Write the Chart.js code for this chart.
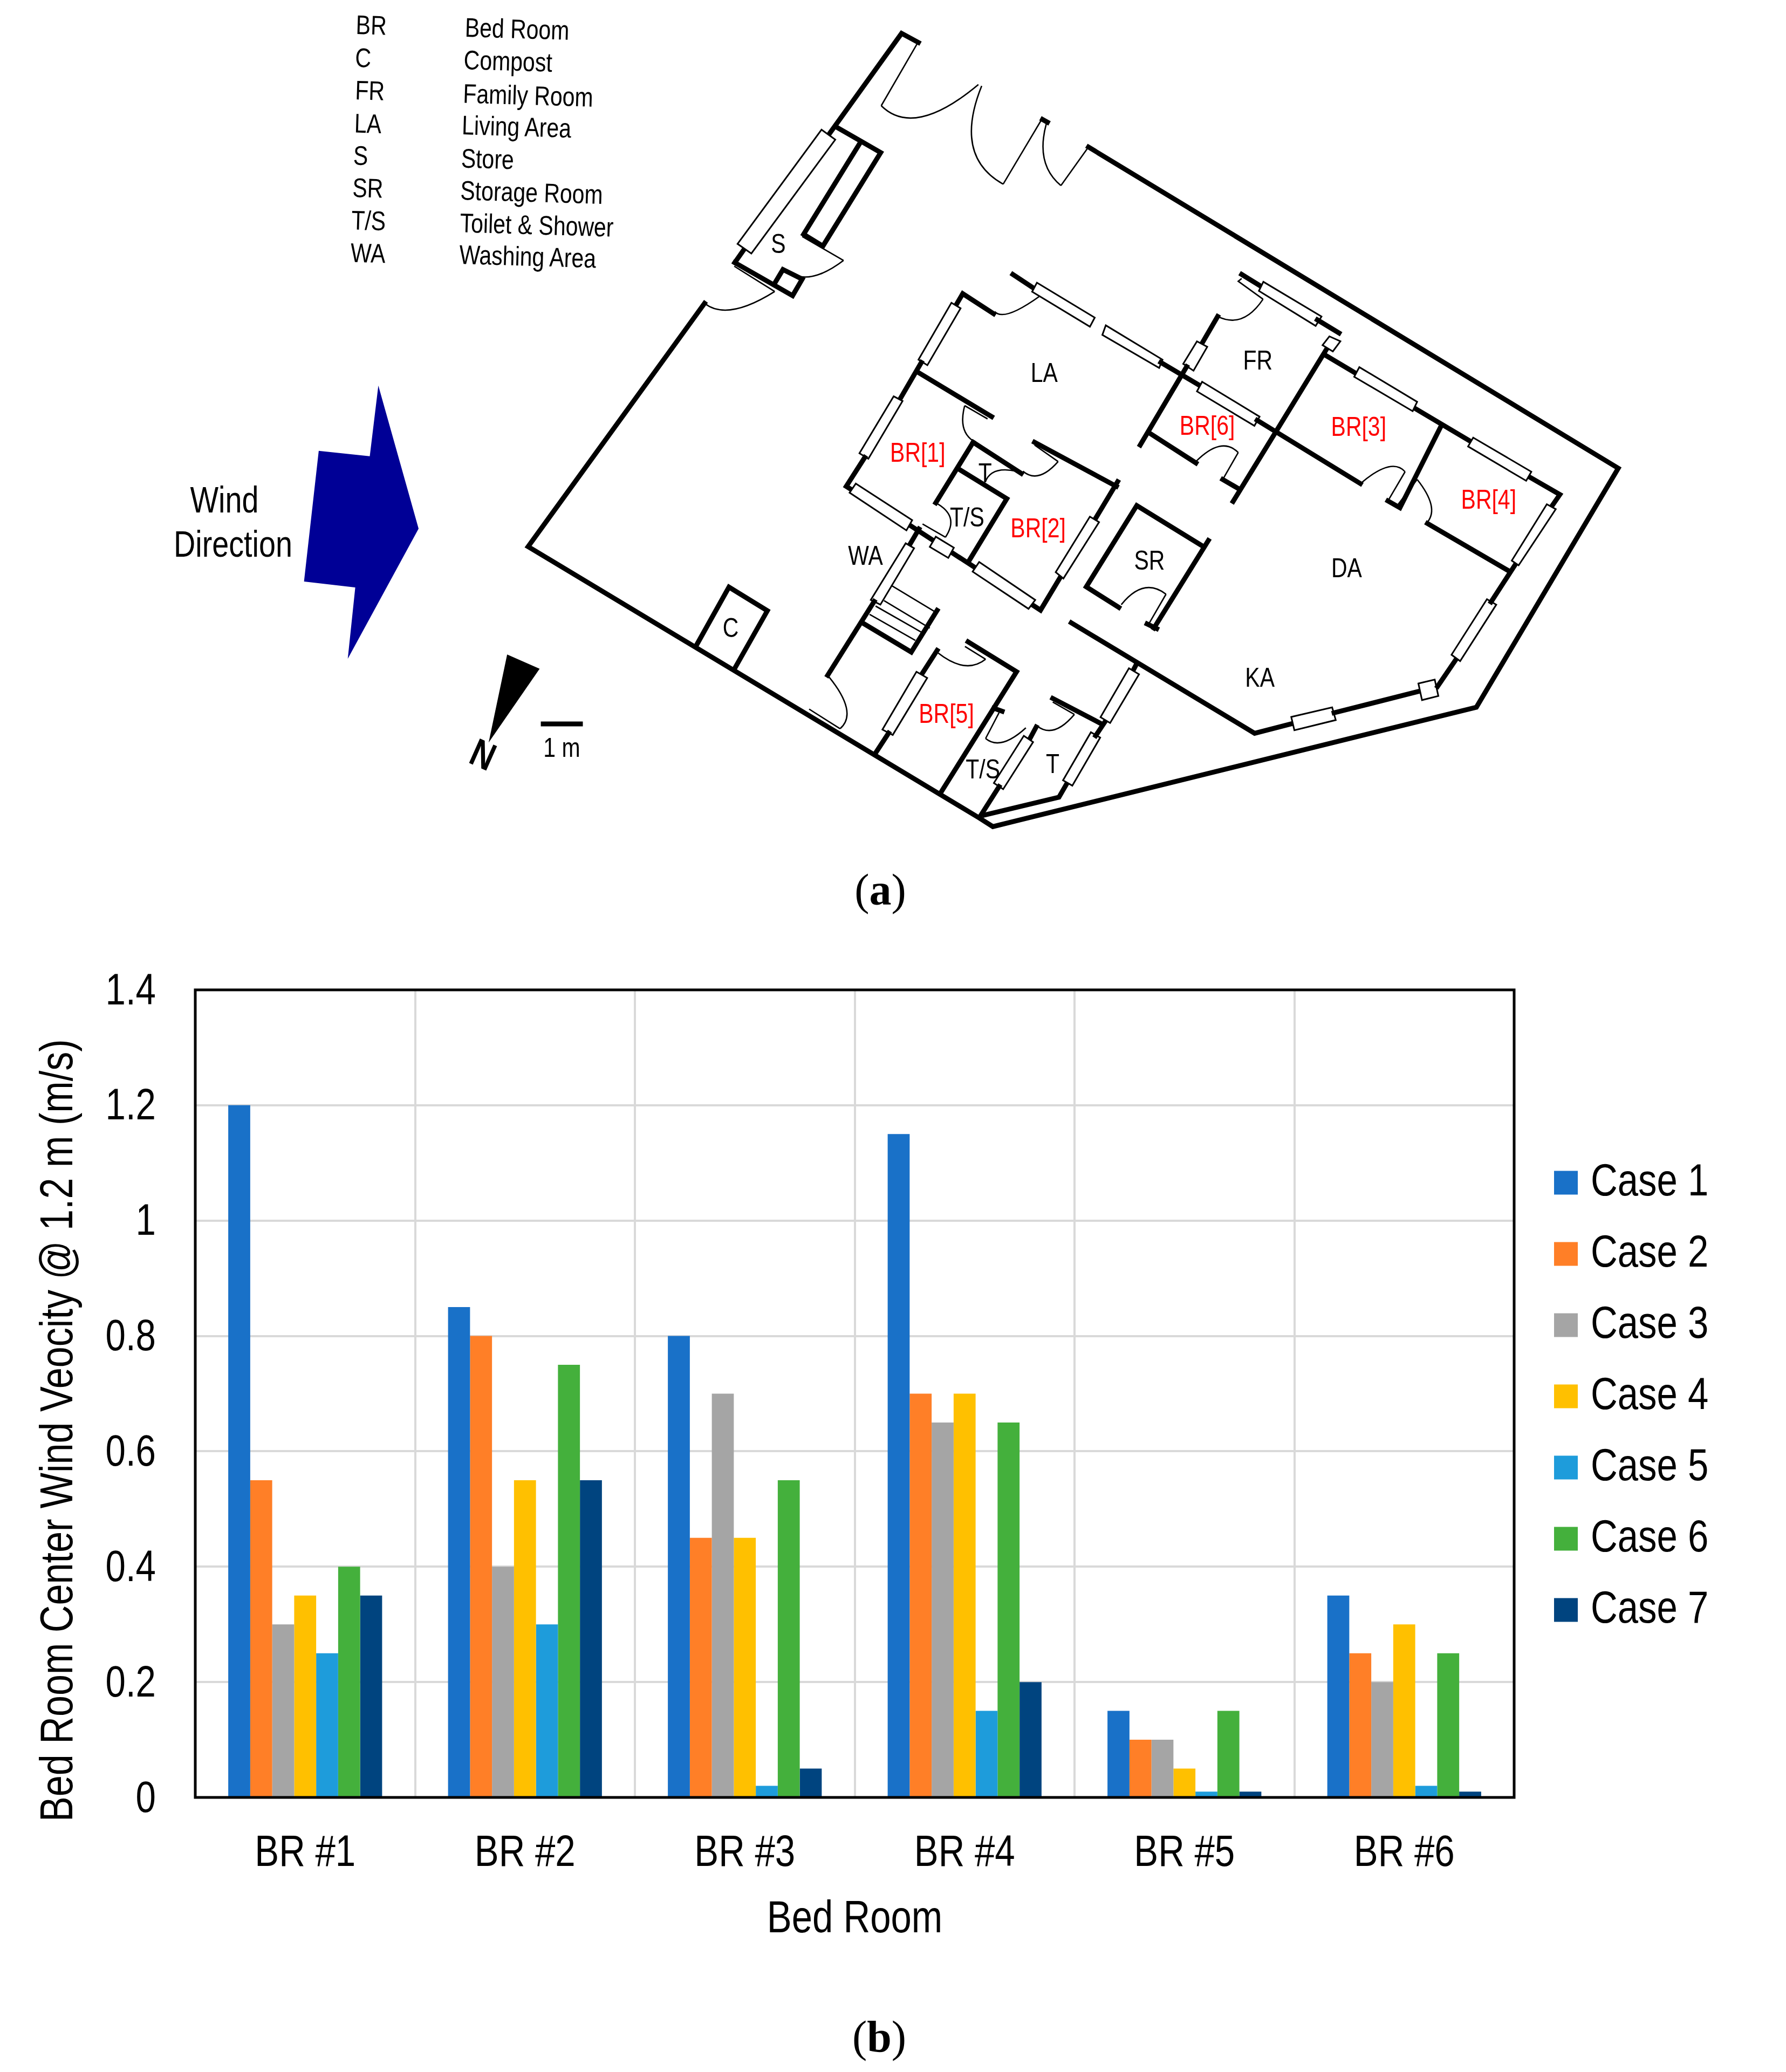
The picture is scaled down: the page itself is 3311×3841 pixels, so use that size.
<!DOCTYPE html>
<html>
<head>
<meta charset="utf-8">
<title>Bed room wind velocity</title>
<script src="https://cdn.jsdelivr.net/npm/chart.js@4/dist/chart.umd.min.js"></script>
<style>
  body { margin: 0; background: #fff; }
  #page { position: relative; width: 3311px; height: 3841px; overflow: hidden; }
  #chart, #plan { position: absolute; left: 0; top: 0; }
  #plan text { font-family: "Liberation Sans", Arial, sans-serif; }
</style>
</head>
<body>
<div id="page">
  <canvas id="chart" width="3311" height="3841"></canvas>
  <svg id="plan" width="3311" height="3841" viewBox="0 0 3311 3841" xmlns="http://www.w3.org/2000/svg"></svg>
</div>
<script>
const rooms = ['BR #1', 'BR #2', 'BR #3', 'BR #4', 'BR #5', 'BR #6']
const yTickLabels = ['0', '0.2', '0.4', '0.6', '0.8', '1', '1.2', '1.4']
const caseNames = ['Case 1', 'Case 2', 'Case 3', 'Case 4', 'Case 5', 'Case 6', 'Case 7']
const caseColors = ['#1971c8', '#ff7f27', '#a5a5a5', '#ffc000', '#1e9cdb', '#44b03c', '#00447f']

const case1 = [1.2, 0.85, 0.8, 1.15, 0.15, 0.35]
const case2 = [0.55, 0.8, 0.45, 0.7, 0.1, 0.25]
const case3 = [0.3, 0.4, 0.7, 0.65, 0.1, 0.2]
const case4 = [0.35, 0.55, 0.45, 0.7, 0.05, 0.3]
const case5 = [0.25, 0.3, 0.02, 0.15, 0.01, 0.02]
const case6 = [0.4, 0.75, 0.55, 0.65, 0.15, 0.25]
const case7 = [0.35, 0.55, 0.05, 0.2, 0.01, 0.01]
const caseValues = [case1, case2, case3, case4, case5, case6, case7]

// the source uses Arial Narrow, no narrow face here so squeeze the text along its own direction
const squeeze = 0.82

Chart.defaults.font.family = '"Liberation Sans", Arial, sans-serif'
Chart.defaults.color = '#000'

const canvas = document.getElementById('chart')
const canvasCtx = canvas.getContext('2d')
const plainFillText = canvasCtx.fillText.bind(canvasCtx)
canvasCtx.fillText = function (text, x, y) {
    // y tick labels are the only right aligned text, they sit a little low on the gridlines
    const nudge = canvasCtx.textAlign === 'right' ? 4 : 0
    canvasCtx.save()
    canvasCtx.translate(x, y + nudge)
    canvasCtx.scale(squeeze, 1)
    plainFillText(text, 0, 0)
    canvasCtx.restore()
}

// legend gets a fixed slot, then sits a bit right of the plot
const placeLegend = {
    id: 'placeLegend',
    beforeLayout(chart) {
        const legend = chart.legend
        if (legend.fitWrapped) return
        const fit = legend.fit
        legend.fit = function () {
            fit.call(this)
            this.width = 504
        }
        legend.fitWrapped = true
    },
    afterLayout(chart) {
        chart.legend.left = 2851
        chart.legend.top += 5
        chart.legend.bottom += 5
    }
}

const plotFrame = {
    id: 'plotFrame',
    afterDatasetsDraw(chart) {
        const { ctx, chartArea: a } = chart
        ctx.save()
        ctx.strokeStyle = '#000'
        ctx.lineWidth = 5
        ctx.strokeRect(a.left, a.top, a.right - a.left, a.bottom - a.top)
        ctx.restore()
    }
}

new Chart(canvas, {
    type: 'bar',
    data: {
        labels: rooms,
        datasets: caseNames.map((name, i) => ({
            label: name,
            data: caseValues[i],
            backgroundColor: caseColors[i],
            borderWidth: 0,
            categoryPercentage: 0.7,
            barPercentage: 1
        }))
    },
    plugins: [placeLegend, plotFrame],
    options: {
        responsive: false,
        animation: false,
        layout: { autoPadding: false, padding: { top: 1835, left: 0, right: 0, bottom: 0 } },
        plugins: {
            tooltip: { enabled: false },
            legend: {
                position: 'right',
                fullSize: false,
                labels: {
                    font: { size: 84 },
                    color: '#000',
                    padding: 48,
                    boxWidth: 8,
                    boxHeight: 8,
                    // thick outline makes a 44px swatch with the narrow gap to the text
                    generateLabels: chart => Chart.defaults.plugins.legend.labels.generateLabels(chart)
                        .map(item => ({ ...item, lineWidth: 36, strokeStyle: item.fillStyle }))
                }
            }
        },
        scales: {
            x: {
                afterFit(scale) { scale.height = 509 },
                grid: { color: '#d9d9d9', lineWidth: 4, drawTicks: false },
                border: { display: false },
                ticks: { font: { size: 82 }, padding: 55, maxRotation: 0, color: '#000' },
                title: {
                    display: true,
                    text: 'Bed Room',
                    font: { size: 84 },
                    color: '#000',
                    padding: { top: 0, bottom: 232 }
                }
            },
            y: {
                min: 0,
                max: 1.4,
                afterFit(scale) { scale.width = 362 },
                grid: { color: '#d9d9d9', lineWidth: 4, drawTicks: false },
                border: { display: false },
                ticks: {
                    stepSize: 0.2,
                    font: { size: 82 },
                    padding: 73,
                    color: '#000',
                    callback: (v, i) => yTickLabels[i]
                },
                title: {
                    display: true,
                    // trailing spaces push the title below the plot centre like the original
                    text: 'Bed Room Center Wind Veocity @ 1.2 m (m/s)       ',
                    font: { size: 85.5 },
                    color: '#000',
                    padding: { top: 59, bottom: 0 }
                }
            }
        }
    }
})

// floor plan, hand traced. the helpers map crop positions to page pixels
const a = (x, y) => [1250 + x / 1.96, 20 + y / 1.96]
const b = (x, y) => [1400 + x / 2.24, 450 + y / 1.96]
const c = (x, y) => [2050 + x / 1.568, 450 + y / 1.96]
const d = (x, y) => [1500 + x / 2.613, 1100 + y / 3.03]
const e = (x, y) => [2000 + x / 2.24, 1000 + y / 2.24]
const f = (x, y) => [280 + x / 2.01, 680 + y / 2.01]
const g = (x, y) => [900 + x / 1.307, 950 + y / 2.24]

let plan = ''
const pts = list => list.map(p => p[0].toFixed(1) + ',' + p[1].toFixed(1)).join(' ')

function wall(...list) {
    plan += `<polyline points="${pts(list)}" fill="none" stroke="#000" stroke-width="9" stroke-linejoin="miter" stroke-linecap="square"/>`
}
function thin(...list) {
    plan += `<polyline points="${pts(list)}" fill="none" stroke="#000" stroke-width="2.6"/>`
}
function win(...list) {
    plan += `<polygon points="${pts(list)}" fill="#fff" stroke="#000" stroke-width="3"/>`
}
function arc(p0, m, p1) {
    const cx = 2 * m[0] - (p0[0] + p1[0]) / 2
    const cy = 2 * m[1] - (p0[1] + p1[1]) / 2
    plan += `<path d="M${p0[0].toFixed(1)} ${p0[1].toFixed(1)}Q${cx.toFixed(1)} ${cy.toFixed(1)} ${p1[0].toFixed(1)} ${p1[1].toFixed(1)}" fill="none" stroke="#000" stroke-width="2.6"/>`
}
function solid(color, ...list) {
    plan += `<polygon points="${pts(list)}" fill="${color}"/>`
}
function narrowText(x, y, text, size, opts) {
    const o = opts || {}
    const turn = o.rotate ? ` rotate(${o.rotate})` : ''
    const anchor = o.anchor || 'start'
    plan += `<text transform="translate(${x.toFixed(1)} ${y.toFixed(1)})${turn} scale(${squeeze} 1)" text-anchor="${anchor}" font-size="${size}" fill="${o.color || '#000'}"${o.bold ? ' font-weight="bold"' : ''}>${text}</text>`
}
function label(p, text, color) {
    narrowText(p[0], p[1] + 18, text, 50, { anchor: 'middle', color: color })
}

// outer shell
wall(a(1505, 495), [3000, 868], [2737, 1311], d(890, 1310), d(825, 1262), f(1405, 670), a(110, 1063))

// entrance and top porch
wall(a(565, 445), a(826, 82), a(887, 115))
thin(a(887, 112), a(752, 345))
arc(a(752, 345), a(900, 385), a(1105, 268))
arc(a(1117, 273), a(1085, 490), a(1195, 630))
thin(a(1195, 630), a(1335, 395))
wall(a(1338, 395), a(1356, 405))
arc(a(1352, 410), a(1345, 540), a(1405, 635))
thin(a(1405, 635), a(1505, 495))

// store
wall(a(220, 915), a(255, 865))
win(a(230, 847), a(535, 432), a(585, 468), a(280, 882))
wall(a(220, 915), a(430, 1035), a(465, 975), a(395, 940), a(365, 990))
thin(a(218, 928), a(365, 1020))
arc(a(365, 1020), a(215, 1085), a(110, 1063))
wall(a(585, 420), a(750, 515), a(540, 855), a(470, 812), a(675, 480))
thin(a(465, 820), a(615, 907))
arc(a(615, 907), a(500, 965), a(410, 945))

// living area, BR1, BR2 and toilets
wall(b(1070, 115), b(1165, 170))
win(b(1170, 145), b(1410, 272), b(1390, 305), b(1150, 178))
arc(b(1180, 195), b(1060, 255), b(995, 250))
wall(b(990, 258), b(862, 185), b(835, 225))
win(b(815, 218), b(853, 238), b(715, 445), b(678, 425))
wall(b(690, 435), b(600, 570))
wall(b(675, 470), b(982, 632))
thin(b(870, 592), b(965, 640))
arc(b(870, 592), b(865, 670), b(905, 720))
win(b(575, 558), b(612, 575), b(470, 785), b(433, 765))
wall(b(455, 780), b(378, 885), b(400, 897))
wall(b(640, 1025), b(1185, 1335), b(1505, 868))
win(b(418, 875), b(652, 1008), b(628, 1045), b(392, 908))
win(b(750, 1068), b(825, 1108), b(802, 1145), b(725, 1105))
win(b(930, 1160), b(1163, 1298), b(1135, 1330), b(903, 1195))
win(b(1390, 995), b(1428, 1015), b(1280, 1220), b(1248, 1197))
wall(b(1500, 885), b(1160, 725))
thin(b(1160, 735), b(1258, 795))
arc(b(1258, 795), b(1180, 845), b(1112, 830))
wall(b(905, 725), b(1105, 838))
wall(b(905, 725), b(750, 945))
wall(b(850, 825), b(1045, 930), b(885, 1160))
arc(b(955, 870), b(1000, 830), b(1085, 830))
arc(b(750, 945), b(810, 1000), b(790, 1070))
thin(b(790, 1070), b(695, 1022))

// stairs and washing area
wall(b(680, 1040), b(640, 1100))
win(b(625, 1092), b(660, 1110), b(520, 1315), b(480, 1298))
wall(d(315, 45), d(90, 460))
wall(d(265, 170), d(495, 330), d(620, 95))
thin(b(565, 1245), b(745, 1340))
thin(b(535, 1300), b(725, 1400))
thin(b(500, 1320), b(690, 1415))
thin(b(475, 1350), b(665, 1445))
thin(d(0, 650), d(150, 760))
arc(d(150, 760), d(180, 640), d(90, 460))

// compost
wall(g(510, 555), g(590, 310), g(683, 408), g(603, 650))

// BR5 and the two toilets below
wall(d(620, 320), d(545, 455))
win(d(520, 440), d(572, 475), d(405, 795), d(355, 765))
wall(d(385, 785), d(320, 900))
wall(d(770, 272), d(1005, 440), d(640, 1115))
thin(d(755, 298), d(855, 370))
arc(d(855, 370), d(750, 405), d(625, 335))
wall(d(895, 645), d(935, 662))
thin(d(920, 670), d(855, 815))
arc(d(855, 815), d(940, 835), d(1050, 755))
wall(d(1100, 750), d(1070, 815))
win(d(1040, 800), d(1085, 835), d(940, 1100), d(895, 1065))
wall(d(920, 1085), d(830, 1250))
wall(d(850, 1245), d(1210, 1145), d(1250, 1065))
win(d(1365, 780), d(1410, 810), d(1275, 1080), d(1230, 1050))
wall(d(1180, 590), d(1420, 735))
thin(d(1180, 610), d(1285, 680))
arc(d(1285, 680), d(1190, 765), d(1105, 745))
wall(e(110, 755), e(70, 815))

// kitchen side
wall(d(1270, 165), e(730, 805), e(885, 765))
wall(e(238, 520), e(225, 545))
win(e(208, 535), e(250, 560), e(130, 762), e(90, 738))
win(e(882, 737), e(1052, 697), e(1067, 750), e(895, 792))
wall(e(1060, 720), e(1415, 630))
win(e(1410, 598), e(1478, 582), e(1493, 650), e(1425, 667))
wall(e(1490, 610), c(1020, 1510))
win(c(1108, 1295), c(1135, 1315), c(1030, 1520), c(1005, 1497))
wall(c(1120, 1305), c(1190, 1170))

// storage room
wall(b(1510, 1325), b(1375, 1250), c(90, 955), c(285, 1105))
wall(c(298, 1082), c(140, 1400))
wall(c(120, 1385), c(148, 1402))
thin(c(175, 1277), c(125, 1385))
arc(c(175, 1277), c(110, 1255), c(45, 1315))

// family room, BR6, BR3, BR4
wall(c(395, 115), c(460, 165))
win(c(458, 142), c(627, 268), c(610, 302), c(445, 175))
wall(c(615, 280), c(678, 328))
win(c(650, 340), c(682, 358), c(660, 395), c(630, 372))
thin(c(395, 130), c(385, 140), c(457, 205))
arc(c(457, 205), c(395, 275), c(325, 268))
wall(c(325, 268), c(280, 365))
win(c(265, 358), c(295, 378), c(255, 465), c(225, 440))
wall(c(235, 450), c(100, 735))
win(c(0, 300), c(165, 425), c(155, 455), c(-10, 335))
wall(c(160, 435), c(275, 520))
win(c(280, 505), c(447, 632), c(432, 665), c(265, 540))
wall(c(440, 645), c(740, 875))
arc(c(745, 870), c(820, 815), c(870, 832))
thin(c(870, 832), c(820, 938))
wall(c(820, 938), c(855, 963), c(975, 665))
thin(c(905, 860), c(850, 950))
arc(c(905, 860), c(945, 950), c(935, 1015))
wall(c(935, 1020), c(1175, 1195))
wall(c(640, 390), c(370, 940))
wall(c(640, 410), c(1058, 720))
win(c(737, 452), c(905, 578), c(892, 612), c(722, 487))
wall(c(1230, 850), c(1320, 915), c(1295, 960))
win(c(1068, 708), c(1237, 832), c(1222, 865), c(1053, 740))
win(c(1282, 950), c(1308, 968), c(1200, 1172), c(1180, 1155))
wall(c(125, 690), c(262, 800))
arc(c(262, 795), c(330, 740), c(385, 762))
thin(c(385, 762), c(340, 860))
wall(c(340, 860), c(385, 893))

// wind arrow, north arrow and scale bar
solid('#000096', f(847, 70), f(997, 603), f(733, 1088), f(761, 822), f(570, 800), f(625, 313), f(815, 333))
solid('#000', f(1327, 1072), f(1448, 1125), f(1258, 1400))
wall(g(140, 878), g(230, 878))

const planLabels = [
    [b(1200, 470), 'LA'], [b(880, 995), 'T/S'], [b(955, 835), 'T'], [b(458, 1135), 'WA'],
    [c(442, 425), 'FR'], [c(127, 1152), 'SR'], [c(700, 1180), 'DA'], [e(752, 572), 'KA'],
    [a(378, 845), 'S'], [g(594, 478), 'C'], [d(842, 985), 'T/S'], [d(1180, 955), 'T'],
    [g(185, 975), '1 m']
]
planLabels.forEach(l => label(l[0], l[1]))

const bedLabels = [
    [b(675, 760), 'BR[1]'], [b(1175, 1035), 'BR[2]'], [c(735, 667), 'BR[3]'],
    [c(1113, 930), 'BR[4]'], [d(665, 672), 'BR[5]'], [c(295, 663), 'BR[6]']
]
bedLabels.forEach(l => label(l[0], l[1], '#f00'))

narrowText(416, 950, 'Wind', 68, { anchor: 'middle' })
narrowText(432, 1032, 'Direction', 68, { anchor: 'middle' })
const nPos = f(1217, 1490)
narrowText(nPos[0], nPos[1], 'N', 72, { anchor: 'middle', bold: true, rotate: 24 })

// key at the top, slightly tilted in the source
const keyShort = ['BR', 'C', 'FR', 'LA', 'S', 'SR', 'T/S', 'WA']
const keyLong = ['Bed Room', 'Compost', 'Family Room', 'Living Area', 'Store', 'Storage Room', 'Toilet &amp; Shower', 'Washing Area']
const keyShortX = [512, 510, 510, 508, 505, 503, 500, 498]
const keyLongX = [800, 797, 795, 792, 790, 788, 787, 785]
const keyShortY = [90, 210, 328, 448, 565, 682, 800, 918]
const keyLongY = [100, 218, 340, 455, 575, 692, 810, 925]
keyShort.forEach((t, i) => {
    narrowText(300 + keyShortX[i] / 1.425, keyShortY[i] / 1.96 + 17, t, 50, { rotate: 1.7 })
    narrowText(300 + keyLongX[i] / 1.425, keyLongY[i] / 1.96 + 17, keyLong[i], 50, { rotate: 1.7 })
})

// sub figure captions
const serif = 'font-size="82" text-anchor="middle" style="font-family:\'Liberation Serif\',serif"'
plan += `<text x="1632" y="1677" ${serif}>(<tspan font-weight="bold">a</tspan>)</text>`
plan += `<text x="1630" y="3803" ${serif}>(<tspan font-weight="bold">b</tspan>)</text>`

document.getElementById('plan').innerHTML = plan
</script>
</body>
</html>
